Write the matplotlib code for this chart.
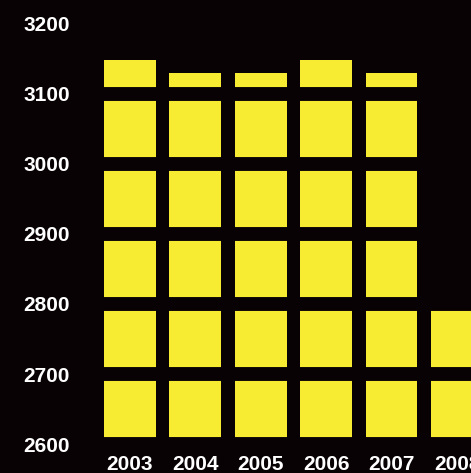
import matplotlib.pyplot as plt
import numpy as np

# values
years = ["2003", "2004", "2005", "2006", "2007", "2008"]
values = [3149, 3130, 3130, 3149, 3130, 2800]
y_ticks = [2600, 2700, 2800, 2900, 3000, 3100, 3200]

bg = "#080204"
yellow = "#F8EC32"

plt.rcParams['font.family'] = ['Liberation Sans', 'DejaVu Sans']

fig = plt.figure(figsize=(4.71, 4.73), dpi=100, facecolor=bg)
# axes runs past the right edge so the last bar gets cut off, like the original
ax = fig.add_axes([0.206, 0.0613, 0.834, 0.888], facecolor=bg)

x = np.arange(len(years))
ax.bar(x, values, width=0.79, color=yellow, zorder=1)

ax.set_xlim(-0.5, 5.5)
ax.set_ylim(2600, 3200)
ax.set_yticks(y_ticks)
ax.set_xticks(x)
ax.set_xticklabels(years)

# thick background-coloured gridlines cut the bars into blocks
ax.yaxis.grid(True, color=bg, linewidth=10)
ax.set_axisbelow(False)

for s in ax.spines.values():
    s.set_visible(False)
ax.tick_params(axis="both", length=0, colors="white", labelsize=15)
ax.tick_params(axis="y", pad=19.5)
ax.tick_params(axis="x", pad=8)
for lab in ax.get_xticklabels() + ax.get_yticklabels():
    lab.set_fontweight("bold")
for lab in ax.get_yticklabels():
    lab.set_y(lab.get_position()[1])

fig.savefig("out.png", dpi=100, facecolor=bg)
